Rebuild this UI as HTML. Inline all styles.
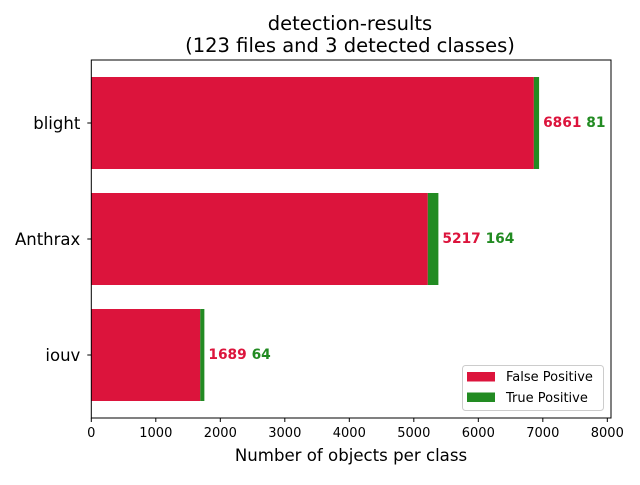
<!DOCTYPE html>
<html><head><meta charset="utf-8"><style>
body{margin:0;background:#fff}
svg text{font-family:"DejaVu Sans","Liberation Sans",sans-serif}
</style></head><body>
<svg id="chart" width="640" height="480" xmlns="http://www.w3.org/2000/svg">
<rect width="640" height="480" fill="#fff"/>
<text x="350" y="30" font-size="19.5" text-anchor="middle">detection-results</text>
<text x="350" y="52" font-size="19.5" text-anchor="middle">(123 files and 3 detected classes)</text>
<g id="plot"></g>
<text x="351" y="461" font-size="16.6" text-anchor="middle">Number of objects per class</text>
<g>
<rect x="462.5" y="365.5" width="141" height="45" rx="3" fill="#fff" fill-opacity="0.8" stroke="#ccc"/>
<rect x="467" y="372" width="28" height="9.5" fill="#dc143c"/>
<text x="506" y="381" font-size="13">False Positive</text>
<rect x="467" y="392.5" width="28" height="9.5" fill="#228b22"/>
<text x="506" y="402" font-size="13">True Positive</text>
</g>
</svg>
<script>
const categories=["blight","Anthrax","iouv"];
const falsePos=[6861,5217,1689];
const truePos=[81,164,64];
const xTicks=[0,1000,2000,3000,4000,5000,6000,7000,8000];
const NS="http://www.w3.org/2000/svg";
const L=91.3,R=611,T=60,B=418,XMAX=8057;
const xs=v=>L+(v/XMAX)*(R-L);
const yc=i=>123+i*116;
const g=document.getElementById('plot');
function mk(t,a,txt){const e=document.createElementNS(NS,t);for(const k in a)e.setAttribute(k,a[k]);if(txt!=null)e.textContent=txt;g.appendChild(e);return e;}
categories.forEach((c,i)=>{
 const y=yc(i)-46;
 let e=mk('rect',{x:xs(0),y:y,width:xs(falsePos[i])-xs(0),height:92,fill:'#dc143c'});
 
 
 e=mk('rect',{x:xs(falsePos[i]),y:y,width:xs(falsePos[i]+truePos[i])-xs(falsePos[i]),height:92,fill:'#228b22'});
 
 
 const end=xs(falsePos[i]+truePos[i])+4;
 const t=mk('text',{x:end,y:yc(i)+4,'font-size':13.8,'font-weight':'bold'});
 
 
 const s1=document.createElementNS(NS,'tspan');s1.setAttribute('fill','#dc143c');s1.textContent=falsePos[i]+' ';t.appendChild(s1);
 const s2=document.createElementNS(NS,'tspan');s2.setAttribute('fill','#228b22');s2.textContent=truePos[i];t.appendChild(s2);
 e=mk('line',{x1:L-4,x2:L,y1:yc(i),y2:yc(i),stroke:'#000'});
 
 
 e=mk('text',{x:L-11,y:yc(i)+6,'font-size':16.5,'text-anchor':'end'},c);
 
 
});
xTicks.forEach(v=>{
 let e=mk('line',{x1:xs(v),x2:xs(v),y1:B,y2:B+4,stroke:'#000'});
 
 
 e=mk('text',{x:xs(v),y:B+19,'font-size':13,'text-anchor':'middle'},v);
 
 
});
const fr=mk('rect',{x:L,y:T,width:R-L,height:B-T,fill:'none',stroke:'#000','stroke-width':1});


</script>
</body></html>
